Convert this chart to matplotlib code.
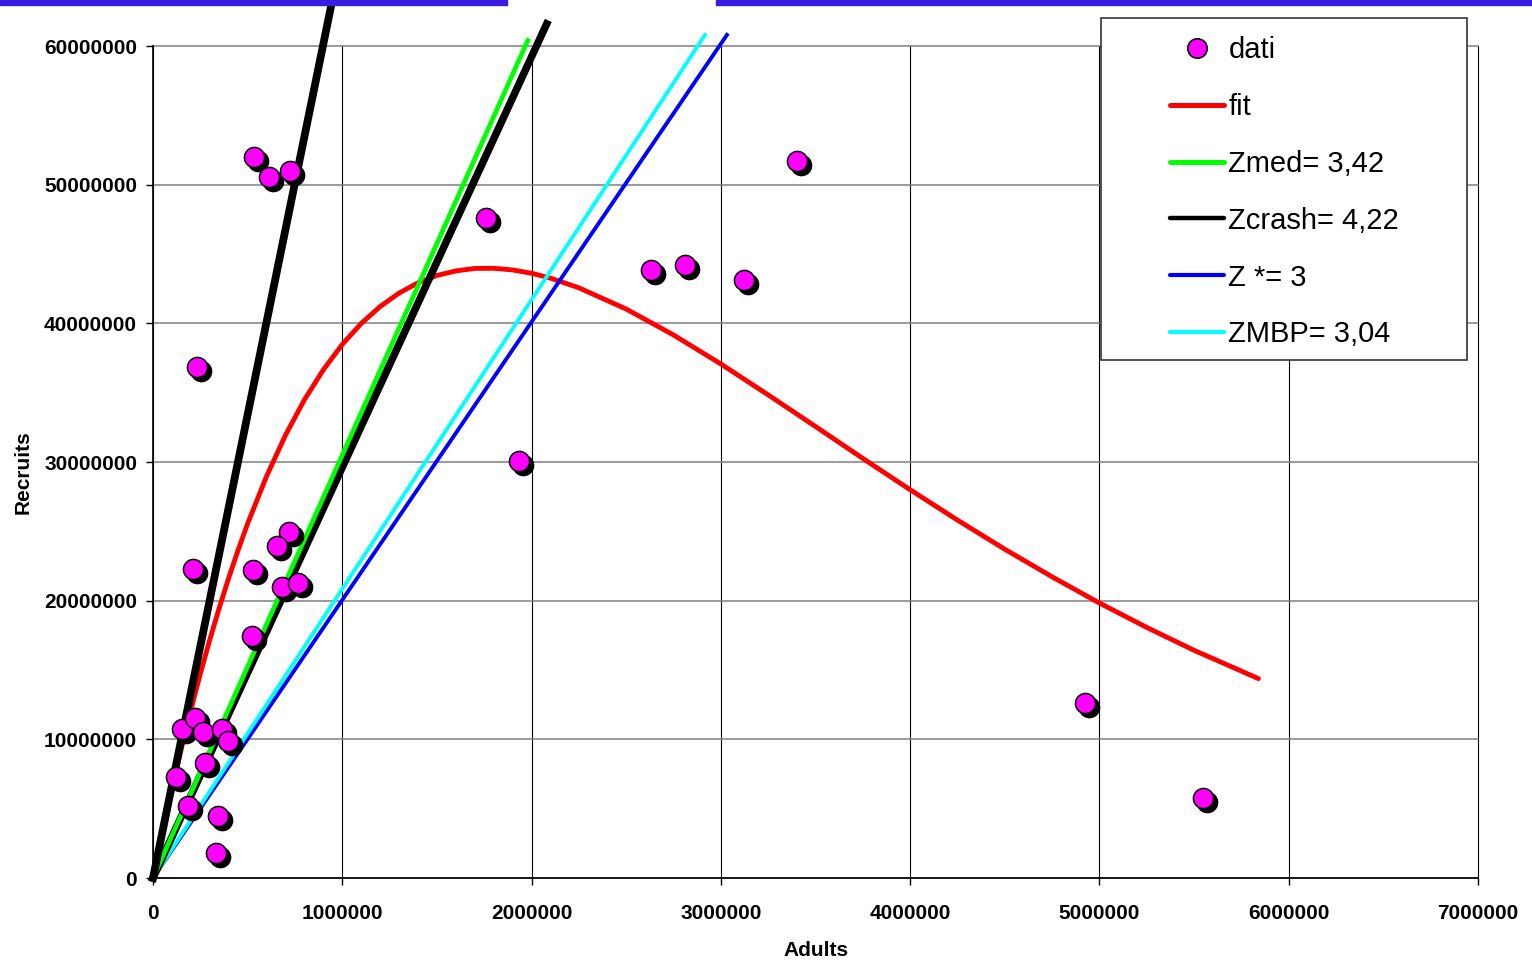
import matplotlib
matplotlib.use("Agg")
import matplotlib.pyplot as plt
import matplotlib.transforms as mtransforms
from matplotlib.patches import Rectangle
from matplotlib.lines import Line2D

plt.rcParams['font.family'] = ['Liberation Sans', 'DejaVu Sans']

# ==========================
# Data
# ==========================
adults = [533000, 613000, 724000, 1759000, 3402000, 2631000, 2810000, 3122000,
          231000, 1935000, 720000, 653000, 527000, 213000, 680000, 768000,
          521000, 4925000, 5548000, 152000, 222000, 263000, 363000, 398000,
          275000, 122000, 187000, 345000, 333000]
recruits = [52000000, 50550000, 51000000, 47570000, 51700000, 43850000, 44200000, 43100000,
            36830000, 30090000, 24970000, 23940000, 22200000, 22260000, 20960000, 21250000,
            17450000, 12640000, 5770000, 10720000, 11520000, 10500000, 10720000, 9880000,
            8270000, 7310000, 5190000, 4470000, 1830000]

fit_adults = [0, 50000, 100000, 150000, 200000, 250000, 300000, 350000, 400000, 450000,
              500000, 600000, 700000, 800000, 900000, 1000000, 1100000, 1200000, 1300000,
              1400000, 1500000, 1600000, 1700000, 1800000, 1900000, 2000000, 2100000,
              2250000, 2500000, 2750000, 3000000, 3250000, 3500000, 3750000, 4000000,
              4250000, 4500000, 4750000, 5000000, 5250000, 5500000, 5840000]
fit_recruits = [0, 3300000, 6410000, 9350000, 12120000, 14730000, 17180000, 19480000,
                21640000, 23660000, 25560000, 28970000, 31940000, 34490000, 36650000,
                38480000, 39990000, 41210000, 42180000, 42920000, 43450000, 43780000,
                43960000, 43970000, 43850000, 43610000, 43260000, 42560000, 41030000,
                39160000, 37070000, 34840000, 32560000, 30260000, 28000000, 25810000,
                23710000, 21720000, 19830000, 18070000, 16420000, 14380000]

zcrash_adults = [0, 965000]
zcrash_recruits = [0, 64500000]
shadow_adults = [0, 2080000]
shadow_recruits = [0, 61600000]
zmed_adults = [0, 1980000]
zmed_recruits = [0, 60400000]
zstar_adults = [0, 3032000]
zstar_recruits = [0, 60800000]
zmbp_adults = [0, 2916000]
zmbp_recruits = [0, 60800000]

xticks = [0, 1000000, 2000000, 3000000, 4000000, 5000000, 6000000, 7000000]
yticks = [0, 10000000, 20000000, 30000000, 40000000, 50000000, 60000000]

W, H = 1532, 966

# ==========================
# Figure
# ==========================
fig = plt.figure(figsize=(W / 100, H / 100), dpi=100)
ax = fig.add_axes([153 / W, 88 / H, 1325 / W, 832 / H])

ax.set_xlim(0, 7000000)
ax.set_ylim(0, 60000000)
ax.set_xticks(xticks)
ax.set_yticks(yticks)
ax.set_xticklabels([str(v) for v in xticks], fontsize=15, fontweight='bold')
ax.set_yticklabels([str(v) for v in yticks], fontsize=15, fontweight='bold')
ax.tick_params(axis='x', length=5, width=1, pad=14)
ax.tick_params(axis='y', length=5, width=1, pad=6.5)

ax.xaxis.grid(True, color='black', lw=0.8)
ax.yaxis.grid(True, color='#808080', lw=1.1)
ax.set_axisbelow(True)
for gl in ax.get_xgridlines() + ax.get_ygridlines():
    gl.set_clip_on(False)
ax.spines['top'].set_visible(False)
ax.spines['right'].set_visible(False)
ax.spines['left'].set_linewidth(1.2)
ax.spines['bottom'].set_linewidth(1.2)

# lines
ax.plot(fit_adults, fit_recruits, color='#ff0000', lw=3.5, solid_capstyle='round',
        solid_joinstyle='round', zorder=3)
ax.plot(zstar_adults, zstar_recruits, color='#0000ff', lw=2.8, clip_on=False, zorder=3)
ax.plot(zmbp_adults, zmbp_recruits, color='#00ffff', lw=2.8, clip_on=False, zorder=3)
ax.plot(shadow_adults, shadow_recruits, color='black', lw=5.4, clip_on=False, zorder=3)
ax.plot(zmed_adults, zmed_recruits, color='#00ff00', lw=3.4, clip_on=False, zorder=3)
ax.plot(zcrash_adults, zcrash_recruits, color='black', lw=5.6, clip_on=False, zorder=3)

# points with shadow
shadow_tr = mtransforms.offset_copy(ax.transData, fig=fig, x=4, y=-4, units='dots')
ax.scatter(adults, recruits, s=210, color='black', edgecolor='black', lw=1.1,
           transform=shadow_tr, zorder=4)
ax.scatter(adults, recruits, s=210, color='#ff00ff', edgecolor='black', lw=1.1, zorder=5)

# axis titles
fig.text(816 / W, 1 - 951 / H, 'Adults', fontsize=15, fontweight='bold', ha='center', va='center')
fig.text(23 / W, 1 - 472 / H, 'Recruits', fontsize=15, fontweight='bold',
         rotation=90, ha='center', va='center')

# blue header bars
fig.patches.append(Rectangle((0, 1 - 5 / H), 507 / W, 5 / H, transform=fig.transFigure,
                             color='#381ce0', zorder=1))
fig.patches.append(Rectangle((716 / W, 1 - 5 / H), (W - 716) / W, 5 / H,
                             transform=fig.transFigure, color='#381ce0', zorder=1))

# legend box
fig.patches.append(Rectangle((1101 / W, 1 - 360 / H), 366 / W, 342 / H, transform=fig.transFigure,
                             facecolor='white', edgecolor='#333333', lw=1.2, zorder=4))

handles = [
    Line2D([], [], ls='none', marker='o', ms=14, mfc='#ff00ff', mec='black', mew=1.2),
    Line2D([], [], color='#ff0000', lw=3.6, solid_capstyle='round'),
    Line2D([], [], color='#00ff00', lw=3.6, solid_capstyle='round'),
    Line2D([], [], color='black', lw=3.2, solid_capstyle='round'),
    Line2D([], [], color='#0000ff', lw=3.0, solid_capstyle='round'),
    Line2D([], [], color='#00ffff', lw=3.0, solid_capstyle='round'),
]
labels = ['dati', 'fit', 'Zmed= 3,42', 'Zcrash= 4,22', 'Z *= 3', 'ZMBP= 3,04']
leg = fig.legend(handles, labels, loc='upper left', bbox_to_anchor=(1170 / W, 1 - 36 / H),
                 frameon=False, fontsize=21, labelspacing=0.99, handlelength=1.85,
                 handletextpad=0.15, borderpad=0, borderaxespad=0)
leg.set_zorder(6)

fig.savefig('out.png', dpi=100)
